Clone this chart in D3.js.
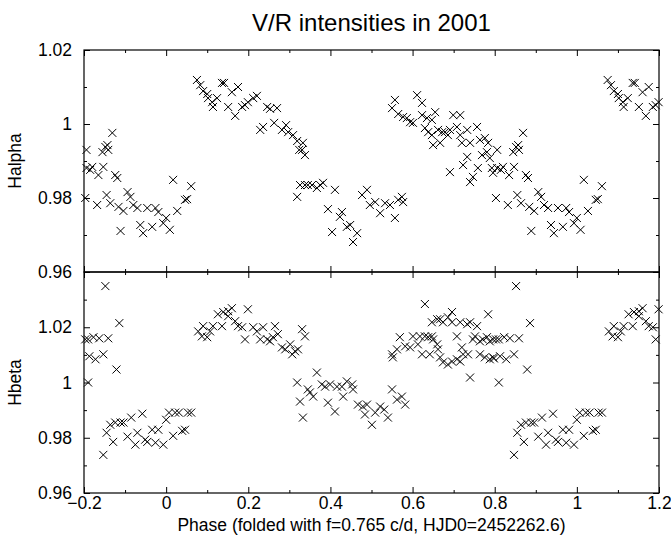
<!DOCTYPE html>
<html>
<head>
<meta charset="utf-8">
<script src="https://cdn.jsdelivr.net/npm/d3@7"></script>
<style>
  body { margin: 0; background: #fff; }
  text { font-family: "Liberation Sans", Arial, Helvetica, sans-serif; fill: #000; }
</style>
</head>
<body>
<div id="chart"></div>
<script>
// V/R intensities, [phase, V/R] with phase in [0,1)
const halpha = [
  [0.000,0.9746],[0.009,0.9714],[0.017,0.9849],[0.027,0.9765],[0.046,0.9795],[0.051,0.9797],[0.061,0.9832],
  [0.075,1.0119],[0.083,1.0105],[0.090,1.0089],[0.100,1.0081],[0.102,1.0070],[0.112,1.0059],[0.114,1.0046],[0.124,1.0070],
  [0.136,1.0111],[0.141,1.0111],[0.151,1.0046],[0.160,1.0086],[0.168,1.0022],[0.175,1.0100],[0.185,1.0046],[0.192,1.0051],
  [0.199,1.0059],[0.212,1.0070],[0.221,1.0076],[0.229,0.9984],[0.236,0.9992],[0.246,1.0046],[0.253,1.0041],[0.263,1.0003],
  [0.270,1.0043],[0.282,0.9984],[0.292,0.9997],[0.297,0.9978],[0.309,0.9970],[0.319,0.9954],[0.324,0.9930],[0.331,0.9930],
  [0.333,0.9949],[0.338,0.9916],
  [0.319,0.9803],[0.326,0.9835],[0.338,0.9835],[0.345,0.9835],[0.355,0.9835],[0.367,0.9827],[0.375,0.9835],[0.382,0.9841],
  [0.394,0.9770],[0.404,0.9708],[0.411,0.9822],[0.423,0.9749],[0.428,0.9762],[0.440,0.9722],[0.448,0.9727],[0.455,0.9681],
  [0.465,0.9705],[0.477,0.9808],[0.489,0.9822],[0.496,0.9781],[0.509,0.9789],[0.521,0.9759],[0.533,0.9786],[0.545,0.9781],
  [0.557,0.9746],[0.565,0.9795],[0.574,0.9803],[0.577,0.9789],
  [0.550,1.0043],[0.557,1.0065],[0.565,1.0027],[0.577,1.0019],[0.586,1.0016],[0.594,1.0005],[0.601,1.0003],[0.611,1.0078],
  [0.623,1.0057],[0.623,1.0024],[0.630,0.9989],[0.635,1.0016],[0.638,0.9978],[0.647,0.9970],[0.647,1.0011],[0.650,0.9943],
  [0.655,1.0032],[0.662,0.9984],[0.667,0.9949],[0.672,0.9978],[0.679,0.9978],[0.686,0.9970],[0.691,0.9984],[0.691,0.9870],
  [0.699,1.0024],[0.708,0.9992],[0.716,1.0024],[0.716,0.9970],[0.720,0.9949],[0.723,0.9889],[0.733,0.9984],[0.733,0.9911],
  [0.740,0.9949],[0.740,0.9843],[0.747,0.9857],[0.757,0.9992],[0.759,0.9881],[0.764,0.9957],[0.769,0.9916],[0.776,0.9962],
  [0.781,0.9924],[0.784,0.9949],[0.788,0.9908],[0.793,0.9881],[0.796,0.9868],[0.806,0.9930],[0.806,0.9881],[0.815,0.9876],
  [0.820,0.9884],[0.835,0.9862],[0.845,0.9924],[0.847,0.9884],[0.852,0.9938],[0.857,0.9943],[0.859,0.9930],[0.869,0.9976],
  [0.876,0.9862],[0.881,0.9854],
  [0.803,0.9800],[0.832,0.9781],[0.855,0.9808],[0.864,0.9786],[0.884,0.9776],[0.889,0.9711],[0.896,0.9765],[0.906,0.9816],
  [0.913,0.9803],[0.920,0.9781],[0.930,0.9773],[0.937,0.9727],[0.944,0.9705],[0.954,0.9773],[0.966,0.9722],[0.974,0.9773],
  [0.981,0.9762],[0.993,0.9732]
];

const hbeta = [
  [0.000,0.9865],[0.007,0.9891],[0.017,0.9807],[0.022,0.9891],[0.031,0.9891],[0.039,0.9825],[0.046,0.9829],[0.053,0.9891],
  [0.061,0.9891],
  [0.078,1.0185],[0.087,1.0167],[0.090,1.0204],[0.100,1.0164],[0.107,1.0185],[0.114,1.0204],[0.126,1.0247],[0.136,1.0204],
  [0.139,1.0255],[0.151,1.0258],[0.151,1.0240],[0.160,1.0269],[0.168,1.0222],[0.175,1.0204],[0.185,1.0200],[0.192,1.0156],
  [0.199,1.0265],[0.212,1.0200],[0.221,1.0185],[0.229,1.0156],[0.236,1.0200],[0.246,1.0156],[0.253,1.0149],[0.260,1.0164],
  [0.265,1.0204],[0.272,1.0175],[0.282,1.0127],[0.290,1.0120],[0.302,1.0138],[0.307,1.0102],[0.314,1.0113],[0.321,1.0120],
  [0.331,1.0193],[0.338,1.0167],
  [0.319,1.0000],[0.326,0.9931],[0.333,0.9873],[0.345,0.9975],[0.350,0.9964],[0.358,0.9949],[0.367,1.0036],[0.379,0.9993],
  [0.387,0.9985],[0.394,0.9927],[0.399,0.9993],[0.411,0.9895],[0.416,0.9985],[0.428,0.9985],[0.431,0.9949],[0.440,1.0004],
  [0.453,0.9993],[0.455,0.9975],[0.467,0.9920],[0.479,0.9913],[0.484,0.9884],[0.489,0.9920],[0.501,0.9847],[0.509,0.9891],
  [0.521,0.9913],[0.531,0.9902],[0.540,0.9873],[0.550,0.9975],[0.562,0.9938],[0.574,0.9949],[0.582,0.9920],
  [0.550,1.0102],[0.552,1.0091],[0.562,1.0120],[0.569,1.0164],[0.582,1.0131],[0.594,1.0127],[0.601,1.0167],[0.613,1.0138],
  [0.618,1.0167],[0.623,1.0102],[0.630,1.0284],[0.630,1.0167],[0.638,1.0164],[0.642,1.0102],[0.647,1.0218],[0.647,1.0167],
  [0.650,1.0156],[0.660,1.0229],[0.660,1.0138],[0.662,1.0120],[0.667,1.0229],[0.667,1.0091],[0.674,1.0218],[0.674,1.0073],
  [0.686,1.0236],[0.686,1.0065],[0.696,1.0255],[0.696,1.0218],[0.696,1.0076],[0.708,1.0167],[0.708,1.0084],[0.716,1.0218],
  [0.716,1.0076],[0.720,1.0127],[0.723,1.0102],[0.733,1.0211],[0.735,1.0102],[0.740,1.0218],[0.740,1.0018],[0.747,1.0156],
  [0.752,1.0167],[0.757,1.0204],[0.764,1.0149],[0.764,1.0102],[0.771,1.0156],[0.776,1.0091],[0.781,1.0164],[0.784,1.0247],
  [0.788,1.0149],[0.788,1.0084],[0.796,1.0156],[0.796,1.0091],
  [0.798,1.0087],[0.803,1.0156],[0.810,1.0156],[0.810,1.0000],[0.813,1.0095],[0.823,1.0164],[0.828,1.0084],[0.837,1.0160],
  [0.847,1.0102],[0.852,1.0349],[0.859,1.0160],[0.879,1.0047],[0.886,1.0215],
  [0.847,0.9738],[0.855,0.9818],[0.864,0.9847],[0.871,0.9785],[0.876,0.9855],[0.889,0.9855],[0.896,0.9855],[0.906,0.9804],
  [0.915,0.9873],[0.925,0.9775],[0.930,0.9818],[0.942,0.9887],[0.949,0.9793],[0.954,0.9785],[0.966,0.9829],[0.974,0.9782],
  [0.981,0.9829],[0.993,0.9775]
];

const xTicks = [-0.2, 0, 0.2, 0.4, 0.6, 0.8, 1, 1.2];
const xMinorTicks = [-0.1, 0.1, 0.3, 0.5, 0.7, 0.9, 1.1];
const halphaTicks = [0.96, 0.98, 1, 1.02];
const halphaMinor = [0.97, 0.99, 1.01];
const hbetaTicks = [0.96, 0.98, 1, 1.02, 1.04];
const hbetaLabels = [0.96, 0.98, 1, 1.02];
const hbetaMinor = [0.97, 0.99, 1.01, 1.03];

const width = 671, height = 545;
const left = 84, right = 659;

let svg = d3.select("#chart")
    .append("svg")
    .attr("width", width)
    .attr("height", height)

let x = d3.scaleLinear().domain([-0.2, 1.2]).range([left, right]);

// each phase point is also drawn one cycle earlier / later, like the folded plot
function folded(data) {
    let out = [];
    data.forEach(d => {
        [-1, 0, 1].forEach(k => {
            let p = d[0] + k;
            if (p >= -0.2 && p <= 1.2) out.push([p, d[1]]);
        });
    });
    return out;
}

function panel(data, yDomain, top, bottom, majors, labels, minors, name, showX) {
    let y = d3.scaleLinear().domain(yDomain).range([bottom, top]);
    let g = svg.append("g");
    let fmt = d3.format("");

    // y axis left (labels) and right (mirror)
    g.append("g")
        .attr("transform", "translate(" + left + ",0)")
        .call(d3.axisLeft(y).tickValues(majors).tickSize(-6).tickPadding(12)
            .tickFormat(d => labels.includes(d) ? fmt(d) : ""));
    g.append("g")
        .attr("transform", "translate(" + left + ",0)")
        .call(d3.axisLeft(y).tickValues(minors).tickSize(-3).tickFormat(""));
    g.append("g")
        .attr("transform", "translate(" + right + ",0)")
        .call(d3.axisRight(y).tickValues(majors).tickSize(-6).tickFormat(""));
    g.append("g")
        .attr("transform", "translate(" + right + ",0)")
        .call(d3.axisRight(y).tickValues(minors).tickSize(-3).tickFormat(""));

    // x axis bottom and top
    let xb = g.append("g")
        .attr("transform", "translate(0," + bottom + ")")
        .call(d3.axisBottom(x).tickValues(xTicks).tickSize(-6).tickPadding(4)
            .tickFormat(showX ? fmt : ""));
    g.append("g")
        .attr("transform", "translate(0," + bottom + ")")
        .call(d3.axisBottom(x).tickValues(xMinorTicks).tickSize(-3).tickFormat(""));
    g.append("g")
        .attr("transform", "translate(0," + top + ")")
        .call(d3.axisTop(x).tickValues(xTicks).tickSize(-6).tickFormat(""));
    g.append("g")
        .attr("transform", "translate(0," + top + ")")
        .call(d3.axisTop(x).tickValues(xMinorTicks).tickSize(-3).tickFormat(""));

    g.selectAll(".domain").remove();
    g.selectAll(".tick line").attr("stroke", "#000").attr("stroke-width", 1);
    g.selectAll(".tick text")
        .style("font-size", "17.5px")
        .style("font-family", "'Liberation Sans', Arial, sans-serif")
        .attr("fill", "#000");

    g.append("rect")
        .attr("x", left)
        .attr("y", top)
        .attr("width", right - left)
        .attr("height", bottom - top)
        .attr("fill", "none")
        .attr("stroke", "#000")
        .attr("stroke-width", 1.2);

    g.append("g")
        .selectAll("path")
        .data(folded(data))
        .enter()
        .append("path")
        .attr("transform", d => "translate(" + x(d[0]) + "," + y(d[1]) + ")")
        .attr("d", "M-4,-4L4,4M-4,4L4,-4")
        .attr("stroke", "#000")
        .attr("stroke-width", 1)
        .attr("fill", "none");

    svg.append("text")
        .attr("transform", "translate(21," + ((top + bottom) / 2) + ") rotate(-90)")
        .attr("text-anchor", "middle")
        .style("font-size", "17.5px")
        .text(name);
}

panel(halpha, [0.96, 1.02], 50, 272, halphaTicks, halphaTicks, halphaMinor, "Halpha", false);
panel(hbeta, [0.96, 1.04], 272, 493, hbetaTicks, hbetaLabels, hbetaMinor, "Hbeta", true);

svg.append("text")
    .attr("x", (left + right) / 2)
    .attr("y", 31)
    .attr("text-anchor", "middle")
    .style("font-size", "24px")
    .text("V/R intensities in 2001");

svg.append("text")
    .attr("x", (left + right) / 2)
    .attr("y", 531)
    .attr("text-anchor", "middle")
    .style("font-size", "17.5px")
    .text("Phase (folded with f=0.765 c/d, HJD0=2452262.6)");
</script>
</body>
</html>
